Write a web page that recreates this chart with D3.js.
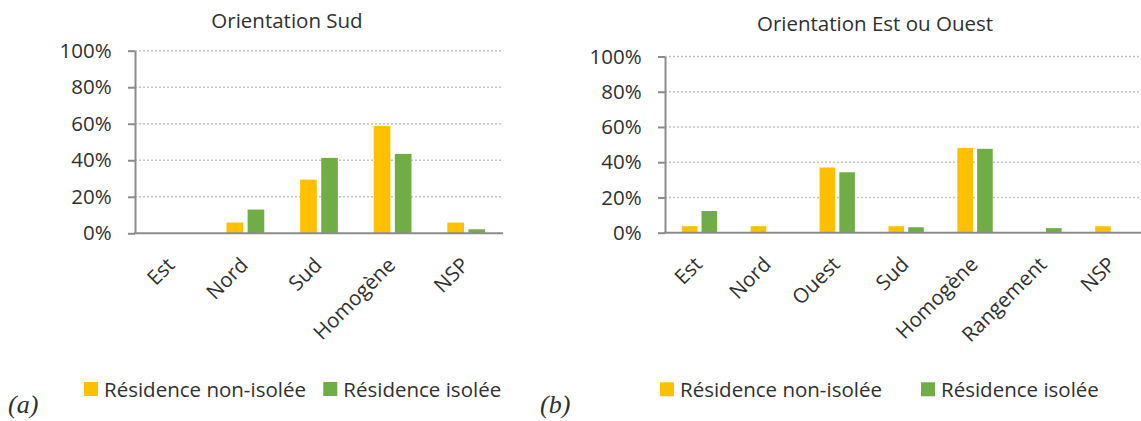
<!DOCTYPE html>
<html>
  <head>
    <meta charset="utf-8">
    <title>Orientation</title>
    <script src="https://d3js.org/d3.v7.min.js"></script>
    <style>
      body { margin: 0; background: #fff; }
      text { font-family: "Open Sans", sans-serif; fill: #303030; }
    </style>
  </head>
  <body>
    <script>
      // data
      const seriesNames = ["Résidence non-isolée", "Résidence isolée"];
      const seriesColors = ["#FFC000", "#70AD47"];
      const yTicks = [0, 0.2, 0.4, 0.6, 0.8, 1];

      const catsA = ["Est", "Nord", "Sud", "Homogène", "NSP"];
      const nonIsoleeA = [0, 0.059, 0.294, 0.588, 0.059];
      const isoleeA = [0, 0.13, 0.413, 0.435, 0.022];

      const catsB = ["Est", "Nord", "Ouest", "Sud", "Homogène", "Rangement", "NSP"];
      const nonIsoleeB = [0.037, 0.037, 0.37, 0.037, 0.481, 0, 0.037];
      const isoleeB = [0.123, 0, 0.343, 0.031, 0.476, 0.026, 0];

      const svg = d3.select("body").append("svg")
          .attr("width", 1141)
          .attr("height", 421);

      function drawChart(o) {
        const g = svg.append("g");

        const x = d3.scaleBand()
            .domain(o.cats)
            .range([o.left, o.left + o.band * o.cats.length]);
        const xs = d3.scaleBand()
            .domain([0, 1])
            .range([0, x.bandwidth()])
            .paddingInner(0.21)
            .paddingOuter(0.85);
        const y = d3.scaleLinear()
            .domain([0, 1])
            .range([o.bottom, o.top]);

        // dotted gridlines
        g.selectAll(".grid")
          .data(yTicks.slice(1))
          .enter().append("line")
            .attr("x1", o.left)
            .attr("x2", o.right)
            .attr("y1", d => y(d))
            .attr("y2", d => y(d))
            .style("stroke", "#c4c4c4")
            .style("stroke-width", 1.6)
            .style("stroke-dasharray", "2,2");

        // bars
        const series = [o.a, o.b];
        series.forEach((vals, s) => {
          g.selectAll(".bar" + s)
            .data(vals)
            .enter().append("rect")
              .attr("x", (d, i) => x(o.cats[i]) + xs(s))
              .attr("y", d => y(d))
              .attr("width", xs.bandwidth())
              .attr("height", d => o.bottom - y(d))
              .style("fill", seriesColors[s]);
        });

        // y axis
        const yAxis = g.append("g")
            .attr("transform", `translate(${o.left},0)`)
            .call(d3.axisLeft(y)
              .tickValues(yTicks)
              .tickFormat(d3.format(".0%"))
              .tickSizeInner(7)
              .tickSizeOuter(0)
              .tickPadding(16.3));
        yAxis.select(".domain").style("stroke", "#8c8c8c").style("stroke-width", 2);
        yAxis.selectAll(".tick line").style("stroke", "#8c8c8c").style("stroke-width", 2);
        yAxis.selectAll(".tick text")
            .style("font-family", "'Open Sans', sans-serif")
            .style("font-size", "20.5px")
            .style("fill", "#303030");

        // x axis line
        g.append("line")
            .attr("x1", o.left - 1)
            .attr("x2", o.right)
            .attr("y1", o.bottom)
            .attr("y2", o.bottom)
            .style("stroke", "#8c8c8c")
            .style("stroke-width", 2);

        // rotated category labels
        g.selectAll(".cat")
          .data(o.cats)
          .enter().append("text")
            .attr("transform", d => `translate(${x(d) + x.bandwidth() / 2 + 4},${o.bottom + 33}) rotate(-45)`)
            .attr("text-anchor", "end")
            .style("font-size", "20.5px")
            .text(d => d);

        // title
        g.append("text")
            .attr("x", o.titleX)
            .attr("y", o.titleY)
            .attr("text-anchor", "middle")
            .style("font-size", "20.5px")
            .text(o.title);

        // legend
        o.legend.forEach((lx, s) => {
          g.append("rect")
              .attr("x", lx)
              .attr("y", o.legendY)
              .attr("width", 14)
              .attr("height", 14)
              .style("fill", seriesColors[s]);
          g.append("text")
              .attr("x", lx + 20)
              .attr("y", o.legendY + 14.5)
              .style("font-size", "20.5px")
              .text(seriesNames[s]);
        });

        // panel letter
        g.append("text")
            .attr("x", o.letterX)
            .attr("y", 413)
            .style("font-family", "'Liberation Serif', serif")
            .style("font-style", "italic")
            .style("font-size", "26px")
            .text(o.letter);
      }

      drawChart({
        cats: catsA, a: nonIsoleeA, b: isoleeA,
        left: 135, band: 73.6, right: 503, top: 50.7, bottom: 233.3,
        title: "Orientation Sud", titleX: 287, titleY: 28,
        legend: [84, 323.3], legendY: 382, letter: "(a)", letterX: 8
      });

      drawChart({
        cats: catsB, a: nonIsoleeB, b: isoleeB,
        left: 665, band: 68.9, right: 1141, top: 56.5, bottom: 232.7,
        title: "Orientation Est ou Ouest", titleX: 875, titleY: 31,
        legend: [660, 921], legendY: 382.3, letter: "(b)", letterX: 540
      });
    </script>
  </body>
</html>
